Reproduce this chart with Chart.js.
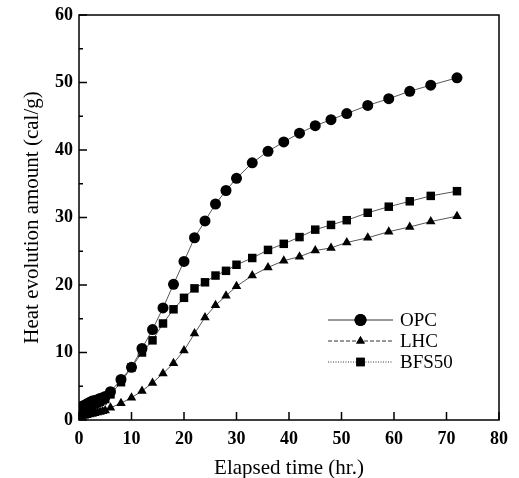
<!DOCTYPE html>
<html>
<head>
<meta charset="utf-8">
<script src="https://cdn.jsdelivr.net/npm/chart.js@4"></script>
<style>
  html, body { margin: 0; padding: 0; background: #fff; }
  #wrap { width: 519px; height: 478px; }
</style>
</head>
<body>
<div id="wrap"><canvas id="heatChart" width="519" height="478"></canvas></div>
<script>
// elapsed time (hr.) shared by all three series
const hours = [0.5, 1, 1.5, 2, 2.5, 3, 3.5, 4, 4.5, 5, 6, 8, 10, 12, 14, 16, 18, 20, 22, 24, 26, 28, 30,
               33, 36, 39, 42, 45, 48, 51, 55, 59, 63, 67, 72];
const opc   = [2.0, 2.2, 2.4, 2.6, 2.8, 2.9, 3.0, 3.2, 3.3, 3.5, 4.2, 6.0, 7.8, 10.6, 13.4, 16.6, 20.1, 23.5, 27.0, 29.5, 32.0, 34.0, 35.8,
               38.1, 39.8, 41.2, 42.5, 43.6, 44.5, 45.4, 46.6, 47.6, 48.7, 49.6, 50.7];
const lhc   = [0.5, 0.6, 0.7, 0.8, 0.9, 1.0, 1.1, 1.2, 1.3, 1.4, 1.8, 2.5, 3.3, 4.3, 5.5, 6.9, 8.4, 10.3, 12.8, 15.2, 17.0, 18.4, 19.8,
               21.4, 22.6, 23.6, 24.2, 25.1, 25.5, 26.3, 27.0, 27.9, 28.6, 29.4, 30.2];
const bfs50 = [1.3, 1.5, 1.7, 1.9, 2.1, 2.3, 2.5, 2.7, 2.9, 3.1, 3.8, 5.6, 7.8, 10.0, 11.8, 14.3, 16.4, 18.1, 19.5, 20.4, 21.4, 22.1, 23.0,
               24.0, 25.2, 26.1, 27.1, 28.2, 28.9, 29.6, 30.7, 31.6, 32.4, 33.2, 33.9];

const xTicks = [0, 10, 20, 30, 40, 50, 60, 70, 80];
const yTicks = [0, 10, 20, 30, 40, 50, 60];
const yMinorTicks = [5, 15, 25, 35, 45, 55];

const serif = "'Liberation Serif', 'Times New Roman', serif";

function toPoints(values) {
    return hours.map((h, i) => ({ x: h, y: values[i] }));
}

// box around plot + inward ticks + legend inside the plot
const framePlugin = {
    id: 'frame',
    afterDraw(chart) {
        const { ctx, chartArea: a, scales } = chart;
        ctx.save();
        ctx.strokeStyle = '#000';
        ctx.lineWidth = 1.5;
        ctx.strokeRect(a.left, a.top, a.right - a.left, a.bottom - a.top);

        ctx.beginPath();
        xTicks.forEach(v => {
            const px = scales.x.getPixelForValue(v);
            ctx.moveTo(px, a.bottom);
            ctx.lineTo(px, a.bottom - 8);
        });
        yTicks.forEach(v => {
            const py = scales.y.getPixelForValue(v);
            ctx.moveTo(a.left, py);
            ctx.lineTo(a.left + 8, py);
        });
        yMinorTicks.forEach(v => {
            const py = scales.y.getPixelForValue(v);
            ctx.moveTo(a.left, py);
            ctx.lineTo(a.left + 4, py);
        });
        ctx.stroke();

        // legend
        const items = [
            { label: 'OPC', style: 'circle', dash: [] },
            { label: 'LHC', style: 'triangle', dash: [4, 2] },
            { label: 'BFS50', style: 'rect', dash: [1, 1.5] }
        ];
        const x0 = a.left + 249, x1 = a.left + 314, xm = (x0 + x1) / 2;
        ctx.font = '19px ' + serif;
        ctx.textBaseline = 'middle';
        items.forEach((it, i) => {
            const y = scales.y.top + 305 + i * 21;
            ctx.strokeStyle = '#333';
            ctx.lineWidth = 1;
            ctx.setLineDash(it.dash);
            ctx.beginPath();
            ctx.moveTo(x0, y);
            ctx.lineTo(x1, y);
            ctx.stroke();
            ctx.setLineDash([]);
            Chart.helpers.drawPoint(ctx, { pointStyle: it.style, radius: it.style === 'triangle' ? 5 : 6, rotation: 0, borderWidth: 0 }, xm, y);
            ctx.fillStyle = '#000';
            ctx.fill();
            ctx.fillText(it.label, x1 + 7, y + 1);
        });
        ctx.restore();
    }
};

function makeSeries(label, values, style, radius) {
    return {
        label: label,
        data: toPoints(values),
        borderColor: '#555',
        borderWidth: 1,
        pointStyle: style,
        pointRadius: radius,
        pointBackgroundColor: '#000',
        pointBorderColor: '#000',
        pointBorderWidth: 0,
        tension: 0,
        fill: false
    };
}

new Chart(document.getElementById('heatChart'), {
    type: 'line',
    data: {
        datasets: [
            makeSeries('OPC', opc, 'circle', 5.5),
            makeSeries('LHC', lhc, 'triangle', 5.5),
            makeSeries('BFS50', bfs50, 'rect', 6)
        ]
    },
    options: {
        responsive: false,
        animation: false,
        layout: { padding: { top: 6, right: 20, left: 16, bottom: 0 } },
        plugins: {
            legend: { display: false },
            tooltip: { enabled: false }
        },
        scales: {
            x: {
                type: 'linear',
                min: 0,
                max: 80,
                afterBuildTicks: scale => { scale.ticks = xTicks.map(v => ({ value: v })); },
                afterFit: scale => { scale.height = 58; },
                grid: { display: false, drawTicks: false },
                border: { display: false },
                ticks: { color: '#000', font: { family: serif, size: 18, weight: 'bold' }, padding: 9, maxRotation: 0 },
                title: { display: true, text: 'Elapsed time (hr.)', color: '#000', font: { family: serif, size: 21 }, padding: { top: 0, bottom: -3 } }
            },
            y: {
                min: 0,
                max: 60,
                afterBuildTicks: scale => { scale.ticks = yTicks.map(v => ({ value: v })); },
                afterFit: scale => { scale.width = 63; },
                grid: { display: false, drawTicks: false },
                border: { display: false },
                ticks: { color: '#000', font: { family: serif, size: 18, weight: 'bold', lineHeight: 1 }, padding: 6 },
                title: { display: true, text: 'Heat evolution amount (cal/g)', color: '#000', font: { family: serif, size: 21 }, padding: { bottom: 0 } }
            }
        }
    },
    plugins: [framePlugin]
});
</script>
</body>
</html>
